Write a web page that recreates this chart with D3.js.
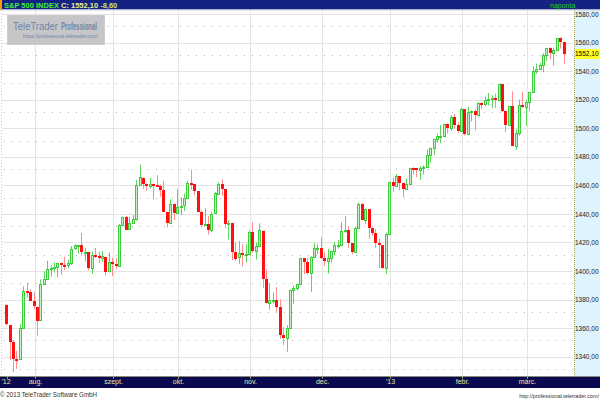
<!DOCTYPE html>
<html><head><meta charset="utf-8">
<script src="https://cdn.jsdelivr.net/npm/d3@7"></script>
<style>body{margin:0;background:#fff;}svg{display:block;font-family:"Liberation Sans",Arial,sans-serif;}</style>
</head><body>
<script>
// ---- DATA (S&P 500 INDEX, daily) ----
const dates = ["2012-07-20","2012-07-23","2012-07-24","2012-07-25","2012-07-26","2012-07-27","2012-07-30","2012-07-31",
"2012-08-01","2012-08-02","2012-08-03","2012-08-06","2012-08-07","2012-08-08","2012-08-09","2012-08-10","2012-08-13","2012-08-14","2012-08-15","2012-08-16","2012-08-17","2012-08-20","2012-08-21","2012-08-22","2012-08-23","2012-08-24","2012-08-27","2012-08-28","2012-08-29","2012-08-30","2012-08-31",
"2012-09-04","2012-09-05","2012-09-06","2012-09-07","2012-09-10","2012-09-11","2012-09-12","2012-09-13","2012-09-14","2012-09-17","2012-09-18","2012-09-19","2012-09-20","2012-09-21","2012-09-24","2012-09-25","2012-09-26","2012-09-27","2012-09-28",
"2012-10-01","2012-10-02","2012-10-03","2012-10-04","2012-10-05","2012-10-08","2012-10-09","2012-10-10","2012-10-11","2012-10-12","2012-10-15","2012-10-16","2012-10-17","2012-10-18","2012-10-19","2012-10-22","2012-10-23","2012-10-24","2012-10-25","2012-10-26","2012-10-31",
"2012-11-01","2012-11-02","2012-11-05","2012-11-06","2012-11-07","2012-11-08","2012-11-09","2012-11-12","2012-11-13","2012-11-14","2012-11-15","2012-11-16","2012-11-19","2012-11-20","2012-11-21","2012-11-23","2012-11-26","2012-11-27","2012-11-28","2012-11-29","2012-11-30",
"2012-12-03","2012-12-04","2012-12-05","2012-12-06","2012-12-07","2012-12-10","2012-12-11","2012-12-12","2012-12-13","2012-12-14","2012-12-17","2012-12-18","2012-12-19","2012-12-20","2012-12-21","2012-12-24","2012-12-26","2012-12-27","2012-12-28","2012-12-31",
"2013-01-02","2013-01-03","2013-01-04","2013-01-07","2013-01-08","2013-01-09","2013-01-10","2013-01-11","2013-01-14","2013-01-15","2013-01-16","2013-01-17","2013-01-18","2013-01-22","2013-01-23","2013-01-24","2013-01-25","2013-01-28","2013-01-29","2013-01-30","2013-01-31",
"2013-02-01","2013-02-04","2013-02-05","2013-02-06","2013-02-07","2013-02-08","2013-02-11","2013-02-12","2013-02-13","2013-02-14","2013-02-15","2013-02-19","2013-02-20","2013-02-21","2013-02-22","2013-02-25","2013-02-26","2013-02-27","2013-02-28",
"2013-03-01","2013-03-04","2013-03-05","2013-03-06","2013-03-07","2013-03-08","2013-03-11","2013-03-12","2013-03-13","2013-03-14","2013-03-15","2013-03-18"];

const opens = [1376.51,1362.34,1350.52,1338.35,1338.17,1360.05,1385.94,1385.27,
1379.32,1375.13,1365.45,1391.04,1394.46,1401.23,1402.26,1402.58,1405.87,1404.36,1403.89,1405.57,1415.84,1417.85,1418.13,1413.09,1413.49,1401.99,1411.13,1410.44,1409.32,1410.08,1400.07,
1406.54,1404.94,1403.74,1432.12,1437.92,1429.13,1433.56,1436.56,1460.07,1465.42,1461.19,1459.50,1461.05,1460.34,1459.76,1456.94,1441.60,1433.36,1447.13,
1440.90,1444.99,1446.05,1451.08,1461.40,1460.93,1455.90,1441.48,1432.82,1432.84,1428.75,1440.31,1454.22,1460.94,1457.34,1433.21,1433.74,1413.20,1409.74,1412.97,1410.99,
1412.20,1427.59,1414.02,1417.26,1428.27,1394.53,1377.55,1379.86,1380.03,1374.64,1355.41,1353.36,1359.88,1386.82,1387.79,1391.03,1409.15,1406.29,1398.77,1409.96,1415.95,
1416.34,1409.46,1407.05,1409.43,1413.95,1418.07,1418.55,1427.84,1428.48,1419.45,1413.54,1430.47,1446.79,1435.81,1443.67,1430.15,1426.66,1419.83,1418.10,1402.43,
1426.19,1462.42,1459.37,1466.47,1461.89,1457.15,1461.02,1472.12,1472.05,1470.67,1472.33,1472.63,1480.95,1485.98,1492.56,1494.81,1494.82,1502.96,1500.18,1507.84,1501.96,
1498.11,1513.17,1495.71,1511.29,1512.12,1509.39,1517.93,1517.01,1519.43,1520.33,1521.38,1519.79,1530.94,1511.95,1502.42,1515.60,1487.85,1496.94,1515.99,
1514.68,1518.20,1525.20,1539.79,1541.46,1544.26,1551.15,1556.22,1552.48,1554.52,1563.21,1560.70];

const highs = [1376.51,1362.34,1351.53,1343.98,1363.13,1389.19,1391.74,1387.16,
1385.03,1375.13,1394.16,1399.63,1407.14,1404.14,1405.95,1405.98,1405.87,1410.03,1407.73,1417.44,1418.71,1418.13,1426.68,1416.12,1413.49,1413.46,1416.17,1413.63,1413.95,1410.08,1413.09,
1409.31,1408.81,1432.81,1437.92,1438.74,1437.76,1439.15,1463.76,1474.51,1465.63,1461.47,1465.15,1461.23,1467.07,1460.72,1463.24,1441.60,1450.20,1447.13,
1457.14,1451.52,1454.30,1463.14,1470.96,1460.93,1455.90,1442.52,1443.90,1438.43,1441.31,1455.51,1462.20,1464.02,1457.34,1435.46,1433.74,1420.04,1421.12,1418.82,1418.76,
1428.35,1434.27,1419.90,1433.38,1428.27,1401.23,1391.39,1384.87,1388.81,1380.13,1360.62,1362.03,1386.89,1389.77,1391.25,1409.16,1409.15,1409.01,1410.31,1419.70,1418.86,
1423.73,1413.14,1415.56,1413.95,1420.34,1421.64,1434.27,1438.59,1431.36,1419.45,1430.67,1448.00,1447.75,1443.70,1443.67,1430.15,1429.42,1422.80,1418.10,1426.74,
1462.43,1465.47,1467.94,1466.47,1461.89,1464.73,1472.30,1472.75,1472.05,1473.31,1473.96,1485.16,1485.98,1492.56,1496.13,1502.27,1503.26,1503.23,1509.35,1509.94,1504.19,
1514.41,1513.17,1514.96,1512.53,1512.90,1518.31,1518.31,1522.29,1524.69,1523.14,1524.24,1530.94,1530.94,1511.95,1515.64,1525.84,1498.99,1520.08,1525.34,
1519.99,1525.27,1543.47,1545.25,1545.78,1552.48,1556.27,1556.77,1556.39,1563.32,1563.62,1560.70];

const lows = [1362.19,1337.56,1329.24,1331.50,1338.17,1360.05,1381.37,1379.17,
1373.35,1354.65,1365.45,1391.04,1394.46,1396.13,1398.80,1395.62,1397.32,1400.60,1401.83,1404.15,1414.67,1412.12,1410.86,1406.78,1400.50,1398.04,1409.11,1405.59,1406.57,1397.01,1398.96,
1396.56,1401.25,1403.74,1431.45,1428.98,1429.13,1432.99,1435.34,1460.07,1457.55,1456.13,1457.88,1449.98,1459.51,1452.06,1441.59,1430.53,1433.36,1435.60,
1440.90,1439.01,1441.99,1451.08,1456.89,1453.10,1441.18,1430.64,1432.82,1425.53,1427.24,1440.31,1453.35,1452.63,1429.85,1422.06,1407.56,1407.10,1405.14,1403.28,1405.95,
1412.20,1412.91,1408.13,1417.26,1388.14,1377.51,1373.03,1377.19,1371.39,1352.50,1348.05,1343.35,1359.88,1377.04,1386.39,1391.03,1397.68,1398.03,1385.43,1409.04,1411.63,
1408.46,1403.65,1398.23,1405.93,1410.90,1415.64,1418.55,1426.76,1416.00,1411.88,1413.54,1430.47,1435.80,1432.82,1422.58,1424.66,1416.43,1401.80,1401.58,1398.11,
1426.19,1455.53,1458.99,1456.62,1451.64,1457.15,1461.02,1467.58,1465.69,1463.76,1467.60,1472.63,1475.81,1481.16,1489.90,1489.46,1494.82,1496.33,1498.00,1500.11,1496.76,
1498.11,1495.02,1495.71,1504.71,1498.49,1509.39,1513.61,1515.61,1515.93,1514.02,1514.14,1519.79,1511.41,1497.29,1502.42,1487.85,1485.01,1494.88,1514.46,
1501.48,1512.29,1525.20,1538.11,1541.46,1539.29,1547.36,1548.24,1544.00,1554.52,1555.74,1545.13];

const closes = [1362.66,1350.52,1338.31,1337.89,1360.02,1385.97,1385.30,1379.32,
1375.32,1365.00,1390.99,1394.23,1401.35,1402.22,1402.80,1405.87,1404.11,1403.93,1405.53,1415.51,1418.16,1418.13,1413.17,1413.49,1402.08,1411.13,1410.44,1409.30,1410.49,1399.48,1406.58,
1404.94,1403.44,1432.12,1437.92,1429.08,1433.56,1436.56,1459.99,1465.77,1461.19,1459.32,1461.05,1460.26,1460.15,1456.89,1441.59,1433.32,1447.15,1440.67,
1444.49,1445.75,1450.99,1461.40,1460.93,1455.88,1441.48,1432.56,1432.84,1428.59,1440.13,1454.92,1460.91,1457.34,1433.19,1433.82,1413.11,1408.75,1412.97,1411.94,1412.16,
1427.59,1414.20,1417.26,1428.39,1394.53,1377.51,1379.85,1380.03,1374.53,1355.49,1353.33,1359.88,1386.89,1387.81,1391.03,1409.15,1406.29,1398.94,1409.93,1415.95,1416.18,
1409.46,1407.05,1409.28,1413.94,1418.07,1418.55,1427.84,1428.48,1419.45,1413.58,1430.36,1446.79,1435.81,1443.69,1430.15,1426.66,1419.83,1418.10,1402.43,1426.19,
1462.42,1459.37,1466.47,1461.89,1457.15,1461.02,1472.12,1472.05,1470.68,1472.34,1472.63,1480.94,1485.98,1492.56,1494.81,1494.82,1502.96,1500.18,1507.84,1501.96,1498.11,
1513.17,1495.71,1511.29,1512.12,1509.39,1517.93,1517.01,1519.43,1520.33,1521.38,1519.79,1530.94,1511.95,1502.42,1515.60,1487.85,1496.94,1515.99,1514.68,
1518.20,1525.20,1539.79,1541.46,1544.26,1551.18,1556.22,1552.48,1554.52,1563.23,1560.70,1552.10];

const monthTickDates = ["2012-07-20","2012-08-01","2012-09-04","2012-10-01","2012-11-01","2012-12-03","2013-01-02","2013-02-01","2013-03-01"];
const monthLabels = ["'12","aug.","szept.","okt.","nov.","dec.","'13","febr.","márc."];
const yTicks = [1340,1360,1380,1400,1420,1440,1460,1480,1500,1520,1540,1560,1580];
const lastClose = 1552.10;
const titleParts = ["S&P 500 INDEX ","C: ","1552,10 ","-8,60"];
const titleColors = ["#44ee33","#f0f088","#f0f088","#c8e860"];
const periodLabel = "naponta";

// ---- CHART ----
const W = 600, H = 400;
const plotR = 573, plotT = 10, plotB = 376;
const svg = d3.select("body").append("svg").attr("width", W).attr("height", H);

const x = d3.scaleBand().domain(dates).range([5.0, 5.0 + dates.length * 3.419]).padding(0);
const y = d3.scaleLinear().domain([1340, 1580]).range([356.7, 14]);
const cx = d => Math.floor(x(d) + x.bandwidth() / 2) + 0.5;
const fmt = d3.formatLocale({decimal: ",", thousands: "", grouping: [3], currency: ["", ""]}).format(".2f");

// plot background
svg.append("rect").attr("x", 0).attr("y", plotT).attr("width", plotR).attr("height", plotB - plotT).attr("fill", "#fff");

// right axis panel
svg.append("rect").attr("x", 574).attr("y", plotT).attr("width", 26).attr("height", plotB - plotT + 1).attr("fill", "#dff3fd");
svg.append("line").attr("x1", 574.5).attr("x2", 574.5).attr("y1", plotT).attr("y2", plotB + 1)
  .attr("stroke", "#b0a040").attr("stroke-dasharray", "1,1");

// left dotted edge
svg.append("line").attr("x1", 1.5).attr("x2", 1.5).attr("y1", plotT).attr("y2", plotB)
  .attr("stroke", "#c8c8c8").attr("stroke-dasharray", "1,2");

const grid = svg.append("g");
const midTicks = yTicks.slice(0, -1).map(v => v + 10).concat([1330]);
grid.selectAll("line.mid").data(midTicks).join("line").attr("class", "mid")
  .attr("x1", 4).attr("x2", plotR).attr("y1", d => Math.round(y(d)) - 1.5).attr("y2", d => Math.round(y(d)) - 1.5)
  .attr("stroke", "#b4b4b4").attr("stroke-dasharray", "1,7");
grid.selectAll("line.h").data(yTicks).join("line").attr("class", "h")
  .attr("x1", 2).attr("x2", plotR).attr("y1", d => Math.round(y(d)) + 0.5).attr("y2", d => Math.round(y(d)) + 0.5)
  .attr("stroke", "#e6e2e2");
grid.selectAll("line.v").data(monthTickDates.slice(1)).join("line").attr("class", "v")
  .attr("x1", d => cx(d) + 1).attr("x2", d => cx(d) + 1).attr("y1", plotT).attr("y2", plotB)
  .attr("stroke", "#e4e4e4");

// logo box
const logo = svg.append("g");
logo.append("rect").attr("x", 7.5).attr("y", 15.5).attr("width", 97).attr("height", 29)
  .attr("fill", "#c6c6c8").attr("stroke", "#b8b8b8").attr("stroke-dasharray", "1,1");
logo.append("text").attr("x", 13).attr("y", 29.5).attr("font-size", 10.5).attr("fill", "#7283a6")
  .attr("textLength", 45).attr("lengthAdjust", "spacingAndGlyphs").text("TeleTrader");
logo.append("text").attr("x", 61).attr("y", 29.5).attr("font-size", 10.5).attr("font-weight", "bold").attr("fill", "#7283a6")
  .attr("textLength", 36).attr("lengthAdjust", "spacingAndGlyphs").text("Professional");
logo.append("text").attr("x", 23).attr("y", 38).attr("font-size", 6).attr("fill", "#7283a6")
  .attr("textLength", 75).attr("lengthAdjust", "spacingAndGlyphs").text("https://professional.teletrader.com/");

// candles
const candles = svg.append("g");
const idx = d3.range(dates.length);
candles.selectAll("line.wick").data(idx).join("line").attr("class", "wick")
  .attr("x1", i => cx(dates[i])).attr("x2", i => cx(dates[i]))
  .attr("y1", i => y(highs[i])).attr("y2", i => y(lows[i]))
  .attr("stroke", i => closes[i] >= opens[i] ? "#5ad65a" : "#ff8c8c").attr("stroke-width", 1);
candles.selectAll("rect.body").data(idx).join("rect").attr("class", "body")
  .each(function(i) {
    const up = closes[i] >= opens[i];
    const top = y(Math.max(opens[i], closes[i]));
    const bot = y(Math.min(opens[i], closes[i]));
    const c = cx(dates[i]);
    const r = d3.select(this);
    if (up) {
      const t = Math.round(top) + 0.5, b = Math.max(Math.round(bot) + 0.5, t + 1);
      r.attr("x", c - 1).attr("width", 2).attr("y", t).attr("height", b - t)
        .attr("fill", "#c4f2c4").attr("stroke", "#3ccc3c").attr("stroke-width", 1);
    } else {
      const t = Math.round(top), b = Math.max(Math.round(bot), t + 2);
      r.attr("x", c - 1.5).attr("width", 3).attr("y", t).attr("height", b - t).attr("fill", "#ff1010");
    }
  });

// right axis labels
const yAxis = d3.axisRight(y).tickValues(yTicks).tickFormat(fmt).tickSize(0).tickPadding(0);
const ya = svg.append("g").attr("transform", "translate(575,0)").call(yAxis);
ya.select(".domain").remove();
ya.selectAll("text").attr("font-size", 6.5).attr("fill", "#1a1a1a").attr("font-family", "Liberation Sans, Arial, sans-serif");

// current price label
svg.append("rect").attr("x", 575).attr("y", Math.round(y(lastClose)) - 5).attr("width", 25).attr("height", 10).attr("fill", "#ffff20");
svg.append("text").attr("x", 575).attr("y", y(lastClose)).attr("dy", "0.32em").attr("font-size", 6.5).attr("fill", "#000")
  .text(fmt(lastClose));

// top bar
svg.append("rect").attr("x", 0).attr("y", 0).attr("width", W).attr("height", 9.5).attr("fill", "#142282");
svg.append("rect").attr("x", 0).attr("y", 0).attr("width", 2).attr("height", 9.5).attr("fill", "#ff9a00");
svg.append("line").attr("x1", 0).attr("x2", W).attr("y1", 10).attr("y2", 10).attr("stroke", "#d0d0d8");
const title = svg.append("text").attr("x", 4).attr("y", 8).attr("font-size", 7.5).attr("font-weight", "bold")
  .attr("xml:space", "preserve");
title.selectAll("tspan").data(titleParts).join("tspan")
  .attr("fill", (d, i) => titleColors[i]).text(d => d);
svg.append("text").attr("x", 550).attr("y", 8).attr("font-size", 7).attr("fill", "#22cc22").text(periodLabel);

// bottom axis bar
svg.append("rect").attr("x", 0).attr("y", 376.5).attr("width", W).attr("height", 11.5).attr("fill", "#0a0a50");
svg.append("line").attr("x1", 0).attr("x2", W).attr("y1", 376.5).attr("y2", 376.5).attr("stroke", "#8c8c78");
const xAxis = d3.axisBottom(x).tickValues(monthTickDates).tickSize(2).tickPadding(1)
  .tickFormat((d, i) => monthLabels[i]);
const xa = svg.append("g").attr("transform", "translate(0,376.5)").call(xAxis);
xa.select(".domain").remove();
xa.selectAll(".tick").attr("transform", d => `translate(${cx(d) + 1},0)`);
xa.selectAll(".tick line").attr("stroke", "#b8b870");
xa.selectAll(".tick text").attr("font-size", 7).attr("fill", "#e6e6a8").attr("font-family", "Liberation Sans, Arial, sans-serif");
xa.select(".tick text").attr("text-anchor", "start").attr("x", -6);

// footer
svg.append("text").attr("x", 0).attr("y", 397).attr("font-size", 7.5).attr("fill", "#333")
  .attr("textLength", 97).attr("lengthAdjust", "spacingAndGlyphs").text("© 2013 TeleTrader Software GmbH");
svg.append("text").attr("x", 599).attr("y", 398).attr("text-anchor", "end").attr("font-size", 5.4).attr("fill", "#333")
  .text("http://professional.teletrader.com/");
</script>
</body></html>
